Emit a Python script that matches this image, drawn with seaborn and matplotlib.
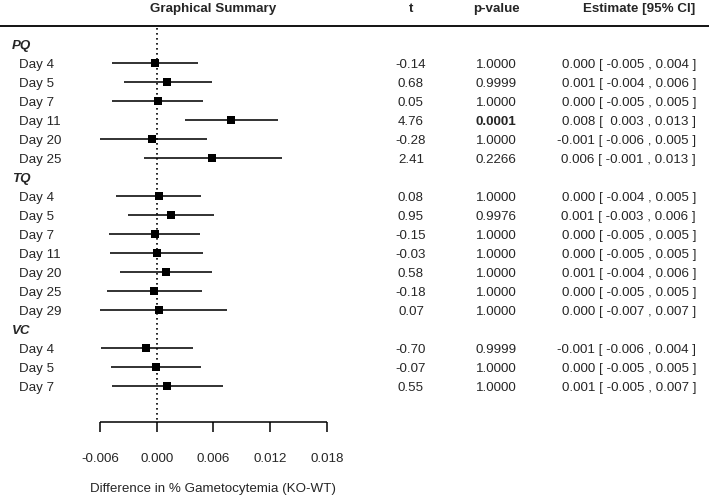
import matplotlib
matplotlib.use("Agg")
import matplotlib.pyplot as plt
import seaborn as sns
import pandas as pd

# Données du forest plot
groups = ["PQ", "TQ", "VC"]
days = [
    ["Day 4", "Day 5", "Day 7", "Day 11", "Day 20", "Day 25"],
    ["Day 4", "Day 5", "Day 7", "Day 11", "Day 20", "Day 25", "Day 29"],
    ["Day 4", "Day 5", "Day 7"],
]
estimate = [-0.0002, 0.0011, 0.0001, 0.0079, -0.0005, 0.0059,
            0.0002, 0.0015, -0.0002, 0.0000, 0.0010, -0.0003, 0.0002,
            -0.0011, -0.0001, 0.0011]
lower = [-0.0047, -0.0035, -0.0047, 0.0030, -0.0060, -0.0013,
         -0.0043, -0.0030, -0.0050, -0.0049, -0.0039, -0.0053, -0.0060,
         -0.0059, -0.0048, -0.0047]
upper = [0.0044, 0.0058, 0.0049, 0.0128, 0.0053, 0.0133,
         0.0047, 0.0061, 0.0046, 0.0049, 0.0059, 0.0048, 0.0074,
         0.0038, 0.0047, 0.0070]
t_values = ["-0.14", "0.68", "0.05", "4.76", "-0.28", "2.41",
            "0.08", "0.95", "-0.15", "-0.03", "0.58", "-0.18", "0.07",
            "-0.70", "-0.07", "0.55"]
p_values = ["1.0000", "0.9999", "1.0000", "0.0001", "1.0000", "0.2266",
            "1.0000", "0.9976", "1.0000", "1.0000", "1.0000", "1.0000", "1.0000",
            "0.9999", "1.0000", "1.0000"]
ci_text = ["0.000 [ -0.005 , 0.004 ]", "0.001 [ -0.004 , 0.006 ]",
           "0.000 [ -0.005 , 0.005 ]", "0.008 [  0.003 , 0.013 ]",
           "-0.001 [ -0.006 , 0.005 ]", "0.006 [ -0.001 , 0.013 ]",
           "0.000 [ -0.004 , 0.005 ]", "0.001 [ -0.003 , 0.006 ]",
           "0.000 [ -0.005 , 0.005 ]", "0.000 [ -0.005 , 0.005 ]",
           "0.001 [ -0.004 , 0.006 ]", "0.000 [ -0.005 , 0.005 ]",
           "0.000 [ -0.007 , 0.007 ]", "-0.001 [ -0.006 , 0.004 ]",
           "0.000 [ -0.005 , 0.005 ]", "0.001 [ -0.005 , 0.007 ]"]
ticks = [-0.006, 0.000, 0.006, 0.012, 0.018]
tick_labels = ["-0.006", "0.000", "0.006", "0.012", "0.018"]

# Positions des lignes (une ligne par groupe + une par jour)
rows = []
group_rows = []
r = 0
for g, dl in zip(groups, days):
    group_rows.append((g, r))
    r += 1
    for d in dl:
        rows.append((g, d, r))
        r += 1

df = pd.DataFrame({
    "group": [x[0] for x in rows],
    "day": [x[1] for x in rows],
    "row": [x[2] for x in rows],
    "estimate": estimate,
    "lower": lower,
    "upper": upper,
    "t": t_values,
    "p": p_values,
    "ci": ci_text,
})

sns.set_style("white")
plt.rcParams["font.family"] = ["Liberation Sans", "DejaVu Sans"]
fs = 9.6
dy = 0.1  # petit décalage vertical du texte

fig = plt.figure(figsize=(7.09, 4.96), dpi=100)
ax = fig.add_axes([0, 0, 1, 1])
ax.set_xlim(-0.01658, 0.05844)
ax.set_ylim(23.79, -2.316)
ax.axis("off")
tr = ax.get_yaxis_transform()

def px(x):
    return x / 709

# Intervalles de confiance et estimations
ax.hlines(df["row"], df["lower"], df["upper"], color="#222222", lw=1.3)
sns.scatterplot(data=df, x="estimate", y="row", marker="s", color="black",
                s=28, edgecolor="black", linewidth=0, ax=ax, zorder=3)
ax.vlines(0, -0.85, 19.89, color="black", linestyles=(0, (1, 2)), lw=1.2)

# Axe des x
ax.hlines(19.89, ticks[0], ticks[-1], color="black", lw=1.1)
ax.vlines(ticks, 19.89, 20.42, color="black", lw=1.1)
for tk, lab in zip(ticks, tick_labels):
    ax.text(tk, 21.74 + dy, lab, ha="center", va="center", fontsize=fs)
ax.text(0.006, 23.32 + dy, "Difference in % Gametocytemia (KO-WT)",
        ha="center", va="center", fontsize=fs)

# En-têtes
ax.axhline(-0.947, color="black", lw=1.3)
ax.text(px(213), -1.95 + dy, "Graphical Summary", transform=tr, ha="center",
        va="center", fontsize=fs, fontweight="bold")
ax.text(px(411), -1.95 + dy, "t", transform=tr, ha="center", va="center",
        fontsize=fs, fontweight="bold")
ax.text(px(496), -1.95 + dy, "p-value", transform=tr, ha="center", va="center",
        fontsize=fs, fontweight="bold")
ax.text(px(695), -1.95 + dy, "Estimate [95% CI]", transform=tr, ha="right",
        va="center", fontsize=fs, fontweight="bold")

# Étiquettes et colonnes
for g, gr in group_rows:
    ax.text(px(12), gr + dy, g, transform=tr, ha="left", va="center",
            fontsize=fs, fontweight="bold", fontstyle="italic")
for _, row in df.iterrows():
    y = row["row"] + dy
    ax.text(px(19), y, row["day"], transform=tr, ha="left",
            va="center", fontsize=fs)
    ax.text(px(411), y, row["t"], transform=tr, ha="center",
            va="center", fontsize=fs)
    ax.text(px(496), y, row["p"], transform=tr, ha="center",
            va="center", fontsize=fs,
            fontweight="bold" if float(row["p"]) < 0.05 else "normal")
    ax.text(px(696), y, row["ci"], transform=tr, ha="right",
            va="center", fontsize=fs)

fig.savefig("out.png", dpi=100)
